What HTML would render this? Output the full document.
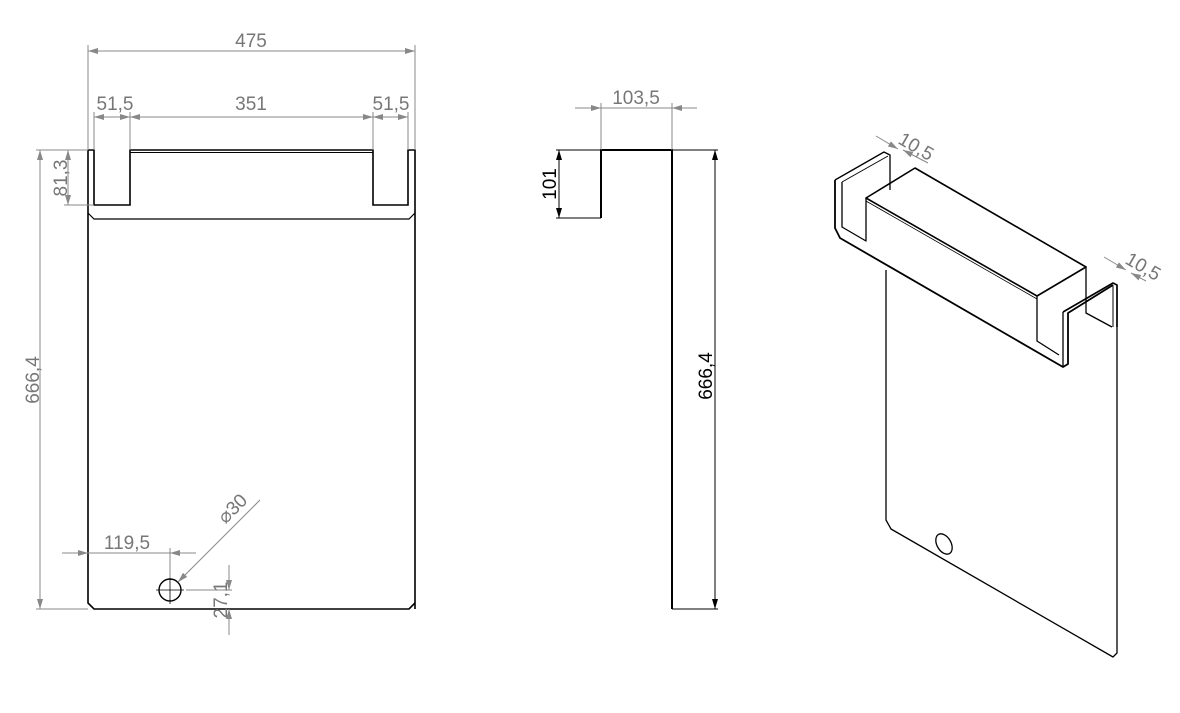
<!DOCTYPE html>
<html><head><style>body{margin:0;background:#fff}svg{display:block}</style></head><body>
<svg width="1180" height="713" viewBox="0 0 1180 713" xmlns="http://www.w3.org/2000/svg" font-family="Liberation Sans, sans-serif">
<defs>
<marker id="a" viewBox="0 0 10 6" refX="10" refY="3" markerWidth="12" markerHeight="6" orient="auto-start-reverse" markerUnits="userSpaceOnUse"><path d="M0,0L10,3L0,6z" fill="#888"/></marker>
<marker id="b" viewBox="0 0 10 6" refX="10" refY="3" markerWidth="12" markerHeight="6" orient="auto-start-reverse" markerUnits="userSpaceOnUse"><path d="M0,0L10,3L0,6z" fill="#000"/></marker>
</defs>
<!-- LEFT VIEW -->
<g fill="none" stroke="#000" stroke-width="1.6">
<path d="M88,150H94V205H130V150H373V205H408V150H415V609"/>
<path d="M88,150V603L94,609H409L415,603"/>
<path d="M88,213L94,219H409L415,213" stroke-width="1.2"/>
<line x1="130" y1="152.5" x2="373" y2="152.5" stroke-width="1"/>
<circle cx="170" cy="590" r="11" stroke-width="1.4"/>
</g>
<g stroke="#000" stroke-width="0.8"><line x1="156" y1="590" x2="184" y2="590"/><line x1="170" y1="576" x2="170" y2="604"/></g>
<g stroke="#888" stroke-width="1" fill="none">
<line x1="88" y1="45" x2="88" y2="150"/><line x1="415" y1="45" x2="415" y2="150"/>
<line x1="88" y1="51" x2="415" y2="51" marker-start="url(#a)" marker-end="url(#a)"/>
<line x1="94" y1="112" x2="94" y2="150"/><line x1="130" y1="112" x2="130" y2="150"/><line x1="373" y1="112" x2="373" y2="150"/><line x1="408" y1="112" x2="408" y2="150"/>
<line x1="94" y1="117" x2="112" y2="117" marker-start="url(#a)"/><line x1="112" y1="117" x2="130" y2="117" marker-end="url(#a)"/>
<line x1="130" y1="117" x2="373" y2="117" marker-start="url(#a)" marker-end="url(#a)"/>
<line x1="373" y1="117" x2="390" y2="117" marker-start="url(#a)"/><line x1="390" y1="117" x2="408" y2="117" marker-end="url(#a)"/>
<line x1="36" y1="150" x2="88" y2="150"/><line x1="64" y1="205" x2="94" y2="205"/>
<line x1="68" y1="150" x2="68" y2="205" marker-start="url(#a)" marker-end="url(#a)"/>
<line x1="40" y1="150" x2="40" y2="609" marker-start="url(#a)" marker-end="url(#a)"/>
<line x1="36" y1="609" x2="88" y2="609"/>
<line x1="62" y1="553" x2="88" y2="553" marker-end="url(#a)"/><line x1="88" y1="553" x2="170" y2="553"/><line x1="196" y1="553" x2="170" y2="553" marker-end="url(#a)"/>
<line x1="170" y1="548" x2="170" y2="578"/>
<line x1="260" y1="500" x2="178" y2="582" marker-end="url(#a)"/>
<line x1="186" y1="590" x2="232" y2="590"/>
<line x1="229" y1="565" x2="229" y2="590" marker-end="url(#a)"/><line x1="229" y1="635" x2="229" y2="609" marker-end="url(#a)"/>
</g>
<g fill="#777" font-size="19">
<text x="251" y="47" text-anchor="middle">475</text>
<text x="115" y="110" text-anchor="middle">51,5</text>
<text x="251" y="110" text-anchor="middle">351</text>
<text x="391" y="110" text-anchor="middle">51,5</text>
<text transform="translate(67,178) rotate(-90)" text-anchor="middle">81,3</text>
<text transform="translate(39,380) rotate(-90)" text-anchor="middle">666,4</text>
<text x="127" y="549" text-anchor="middle">119,5</text>
<text transform="translate(237,513) rotate(-45)" text-anchor="middle">⌀30</text>
<text transform="translate(227,600) rotate(-90)" text-anchor="middle">27,1</text>
</g>
<!-- MIDDLE VIEW -->
<path d="M601,218V150H672V609" fill="none" stroke="#000" stroke-width="2"/>
<g stroke="#888" stroke-width="1">
<line x1="601" y1="103" x2="601" y2="150"/><line x1="672" y1="103" x2="672" y2="150"/>
<line x1="575" y1="108" x2="601" y2="108" marker-end="url(#a)"/><line x1="601" y1="108" x2="672" y2="108"/><line x1="697" y1="108" x2="672" y2="108" marker-end="url(#a)"/>
</g>
<g stroke="#000" stroke-width="1">
<line x1="556" y1="150" x2="601" y2="150"/><line x1="556" y1="218" x2="601" y2="218"/>
<line x1="559" y1="150" x2="559" y2="218" marker-start="url(#b)" marker-end="url(#b)"/>
<line x1="672" y1="150" x2="718" y2="150"/><line x1="672" y1="609" x2="718" y2="609"/>
<line x1="715" y1="150" x2="715" y2="609" marker-start="url(#b)" marker-end="url(#b)"/>
</g>
<text x="636" y="104" fill="#777" font-size="19" text-anchor="middle">103,5</text>
<text transform="translate(556,184) rotate(-90)" fill="#000" font-size="19" text-anchor="middle">101</text>
<text transform="translate(712,376) rotate(-90)" fill="#000" font-size="19" text-anchor="middle">666,4</text>
<!-- 3D VIEW -->
<g fill="none" stroke="#000" stroke-width="1.3" stroke-linejoin="round">
<path d="M886,270V520L891,529L1113,657L1117,653V285"/>
<path d="M835,180L884,152L890,155V190"/>
<path d="M835,180V228L840,238L1063,367L1068,364V313L1113,285" stroke-width="1.8"/>
<path d="M1063,312V367" stroke-width="1.3"/>
<path d="M1063,312L1113,283L1117,285V327" stroke-width="1.6"/>
<path d="M1113,285V327" stroke-width="1"/>
<path d="M842,182L888,156" stroke-width="1"/>
<path d="M842,182V227L866,241V198"/>
<path d="M866,198L915,168L1086,267L1037,296Z" stroke-width="1.6"/>
<path d="M866,201L1037,299" stroke-width="0.8"/>
<path d="M1037,296V341L1059,355"/>
<path d="M1086,267V313L1112,327"/>
<ellipse cx="944" cy="544" rx="7" ry="11" transform="rotate(-30 944 544)"/>
</g>
<g stroke="#888" stroke-width="1">
<line x1="876" y1="136" x2="898" y2="149" marker-end="url(#a)"/>
<line x1="928" y1="163" x2="903" y2="150" marker-end="url(#a)"/>
<line x1="1104" y1="257" x2="1126" y2="270" marker-end="url(#a)"/>
<line x1="1146" y1="281" x2="1131" y2="273" marker-end="url(#a)"/>
</g>
<g fill="#777" font-size="19">
<text transform="translate(913,152) rotate(30)" text-anchor="middle">10,5</text>
<text transform="translate(1140,272) rotate(30)" text-anchor="middle">10,5</text>
</g>
</svg>
</body></html>
